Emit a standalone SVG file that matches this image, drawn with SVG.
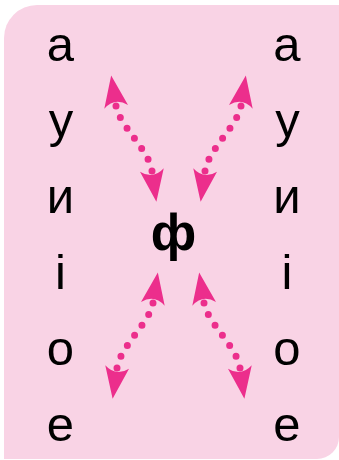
<svg xmlns="http://www.w3.org/2000/svg" width="339" height="460" viewBox="0 0 339 460">
  <style>
    .lt { font-family: "Liberation Sans", Arial, sans-serif; font-size: 49px; fill: #000; text-anchor: middle; }
    .ph { font-family: "Liberation Sans", Arial, sans-serif; font-size: 52px; font-weight: bold; fill: #000; text-anchor: middle; }
    .dots { fill: none; stroke: #EC2E8C; stroke-width: 7; stroke-linecap: round; stroke-dasharray: 0 1; marker-start: url(#head); marker-end: url(#head); }
  </style>
  <defs>
    <marker id="head" markerUnits="userSpaceOnUse" orient="auto-start-reverse" refX="0" refY="0" markerWidth="40" markerHeight="30" overflow="visible">
      <path d="M31,0 L-1,-12 Q9,0 -1,12 Z" fill="#EC2E8C"/>
    </marker>
  </defs>
  <path id="panel" d="M4,38 A33,33 0 0 1 37,5 H339 V437 A22,22 0 0 1 317,459 H4 Z" fill="#F9D3E5"/>
  <g id="connectors">
    <path class="dots" pathLength="6" d="M116,106 C119,125 149,150 152,171"/>
    <path class="dots" pathLength="6" d="M241,106 C238,125 208,150 205,171"/>
    <path class="dots" pathLength="6" d="M153,303 C150,322 120,347 117,368"/>
    <path class="dots" pathLength="6" d="M204,303 C207,322 237,347 240,368"/>
  </g>
  <g id="center-f"><text class="ph" x="173.5" y="250">ф</text></g>
  <g id="left-a"><text class="lt" x="60.5" y="61">а</text></g>
  <g id="left-u"><text class="lt" x="61" y="137">у</text></g>
  <g id="left-i"><text class="lt" x="60.5" y="213">и</text></g>
  <g id="left-ii"><text class="lt" x="60.5" y="289">і</text></g>
  <g id="left-o"><text class="lt" x="60.5" y="365">о</text></g>
  <g id="left-e"><text class="lt" x="60.5" y="441">е</text></g>
  <g id="right-a"><text class="lt" x="287" y="61">а</text></g>
  <g id="right-u"><text class="lt" x="287.5" y="137">у</text></g>
  <g id="right-i"><text class="lt" x="287" y="213">и</text></g>
  <g id="right-ii"><text class="lt" x="287" y="289">і</text></g>
  <g id="right-o"><text class="lt" x="287" y="365">о</text></g>
  <g id="right-e"><text class="lt" x="287" y="441">е</text></g>
</svg>
